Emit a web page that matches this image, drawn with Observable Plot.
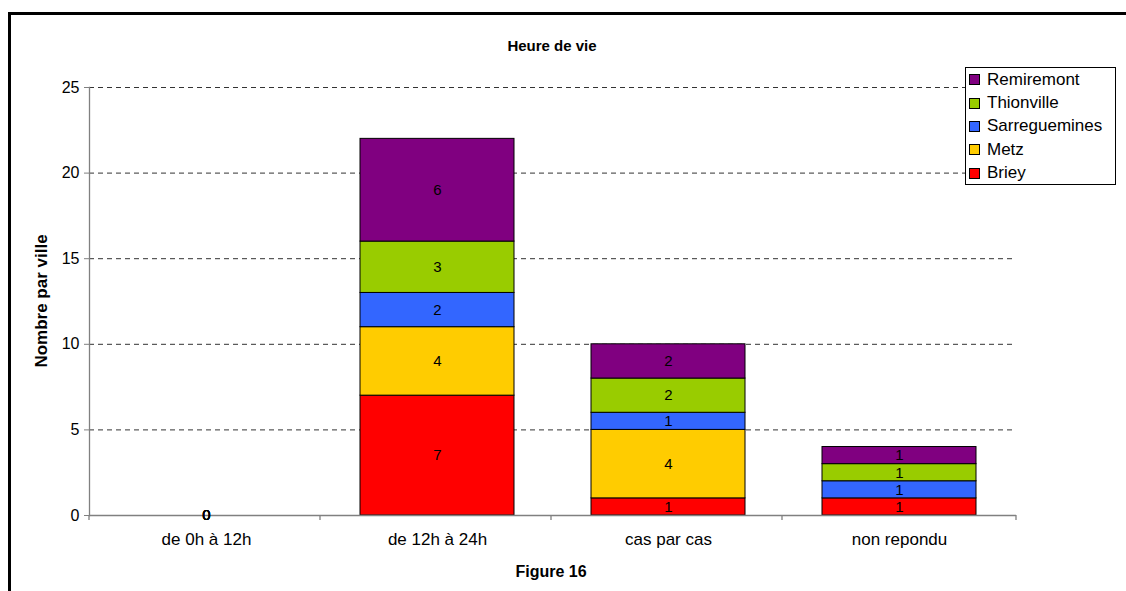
<!DOCTYPE html>
<html lang="fr">
<head>
<meta charset="utf-8">
<script src="https://cdn.jsdelivr.net/npm/d3@7"></script>
<script src="https://cdn.jsdelivr.net/npm/@observablehq/plot@0.6"></script>
<style>
  html, body { margin: 0; padding: 0; background: #fff; overflow: hidden; }
  #page { position: relative; width: 1126px; height: 591px; overflow: hidden;
          font-family: "Liberation Sans", Arial, sans-serif; color: #000; }
  #border { position: absolute; left: 8px; top: 12px; width: 1200px; height: 700px;
            border-left: 3px solid #000; border-top: 3px solid #000; }
  #chart { position: absolute; left: 0; top: 0; }
  .title { position: absolute; font-weight: bold; white-space: nowrap;
           transform: translate(-50%, -50%); }
  #ylabel { position: absolute; left: 42px; top: 301px; font-weight: bold; font-size: 17px;
            white-space: nowrap; transform: translate(-50%, -50%) rotate(-90deg); }
  #legend { position: absolute; left: 965px; top: 67px; width: 151px; height: 118px;
            border: 1px solid #000; background: #fff; box-sizing: border-box;
            padding: 0 0 0 3px; font-size: 17px; }
  #legend .row { display: flex; align-items: center; height: 23.4px; }
  #legend .sw { width: 9px; height: 9px; border: 1px solid #000; margin-right: 7px; flex: none; }
</style>
</head>
<body>
<div id="page">
  <div id="border"></div>
  <div id="chart"></div>
  <div class="title" style="left:552px; top:45px; font-size:15px;">Heure de vie</div>
  <div class="title" style="left:551px; top:572px; font-size:16px;">Figure 16</div>
  <div id="ylabel">Nombre par ville</div>
  <div id="legend"></div>
</div>
<script>
// Categories along the x axis
const categories = ["de 0h à 12h", "de 12h à 24h", "cas par cas", "non repondu"];

// Cities, bottom of the stack first
const cities = ["Briey", "Metz", "Sarreguemines", "Thionville", "Remiremont"];
const cityColors = ["#FF0000", "#FFCC00", "#3366FF", "#99CC00", "#800080"];

// Counts per city for each category (null = no entry)
const briey         = [0, 7, 1, 1];
const metz          = [0, 4, 4, null];
const sarreguemines = [0, 2, 1, 1];
const thionville    = [0, 3, 2, 1];
const remiremont    = [0, 6, 2, 1];

const yTicks = [0, 5, 10, 15, 20, 25];

const series = [briey, metz, sarreguemines, thionville, remiremont];
const rows = [];
categories.forEach((cat, i) => {
  cities.forEach((city, j) => {
    rows.push({category: cat, city, value: series[j][i]});
  });
});
const present = rows.filter(d => d.value != null);

const axisGray = "#808080";

// Small tick marks at the boundaries between category bands
function bandEdgeTicks(index, scales, channels, dims) {
  const x = scales.x, y = scales.y;
  const half = x(categories[0]) - dims.marginLeft;
  const edges = categories.map(c => x(c) - half).concat(dims.width - dims.marginRight);
  const g = d3.create("svg:g");
  g.selectAll("line").data(edges).join("line")
    .attr("x1", d => d).attr("x2", d => d)
    .attr("y1", y(0)).attr("y2", y(0) + 5)
    .attr("stroke", axisGray).attr("stroke-width", 1.3);
  return g.node();
}

const chart = Plot.plot({
  width: 1126,
  height: 591,
  marginLeft: 89,
  marginRight: 110,
  marginTop: 87,
  marginBottom: 76,
  style: {fontFamily: '"Liberation Sans", Arial, sans-serif', fontSize: "16px", background: "transparent"},
  x: {domain: categories, paddingInner: 0.335, paddingOuter: 0.1675, label: null},
  y: {domain: [0, 25], label: null},
  color: {domain: cities, range: cityColors},
  marks: [
    Plot.gridY([5, 10, 15, 20, 25], {stroke: "#333", strokeOpacity: 1, strokeDasharray: "5,4"}),
    Plot.barY(present, {
      x: "category", y: "value", fill: "city", z: "city",
      stroke: "#000", strokeWidth: 1, filter: d => d.value > 0
    }),
    Plot.ruleY([0], {stroke: axisGray, strokeWidth: 1.3}),
    Plot.frame({anchor: "left", stroke: axisGray, strokeWidth: 1.3}),
    Plot.axisY(yTicks, {tickSize: 5, tickPadding: 5, stroke: axisGray, fill: "#000", fontSize: 16, label: null}),
    Plot.axisX({tickSize: 0, tickPadding: 17, fontSize: 17, fill: "#000", label: null}),
    bandEdgeTicks,
    Plot.text(present, Plot.stackY({
      x: "category", y: "value", z: "city", text: d => String(d.value),
      fill: "#000", fontSize: 15
    }))
  ]
});
document.getElementById("chart").append(chart);

// Legend, top entry is the top of the stack
const legend = d3.select("#legend");
cities.slice().reverse().forEach(city => {
  const row = legend.append("div").attr("class", "row");
  row.append("div").attr("class", "sw").style("background", cityColors[cities.indexOf(city)]);
  row.append("span").text(city);
});
</script>
</body>
</html>
